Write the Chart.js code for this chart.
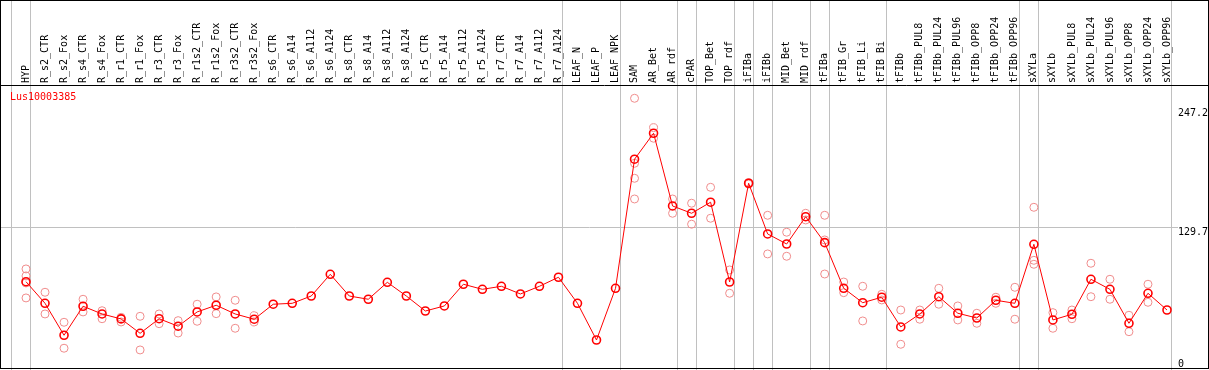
<!DOCTYPE html>
<html>
<head>
<meta charset="utf-8">
<script src="https://cdn.jsdelivr.net/npm/chart.js@4.4.1/dist/chart.umd.min.js"></script>
<style>
  html, body { margin: 0; padding: 0; background: #fff; }
  canvas { display: block; }
</style>
</head>
<body>
<canvas id="expr" width="1209" height="370"></canvas>
<script>
const geneId = 'Lus10003385';

const categories = [
    'HYP', 'R_s2_CTR', 'R_s2_Fox', 'R_s4_CTR', 'R_s4_Fox', 'R_r1_CTR', 'R_r1_Fox',
    'R_r3_CTR', 'R_r3_Fox', 'R_r1s2_CTR', 'R_r1s2_Fox', 'R_r3s2_CTR', 'R_r3s2_Fox',
    'R_s6_CTR', 'R_s6_A14', 'R_s6_A112', 'R_s6_A124', 'R_s8_CTR', 'R_s8_A14', 'R_s8_A112', 'R_s8_A124',
    'R_r5_CTR', 'R_r5_A14', 'R_r5_A112', 'R_r5_A124', 'R_r7_CTR', 'R_r7_A14', 'R_r7_A112', 'R_r7_A124',
    'LEAF_N', 'LEAF_P', 'LEAF_NPK', 'SAM', 'AR_Bet', 'AR_rdf', 'cPAR', 'TOP_Bet', 'TOP_rdf',
    'iFIBa', 'iFIBb', 'MID_Bet', 'MID_rdf', 'tFIBa', 'tFIB_Gr', 'tFIB_Li', 'tFIB_Bi', 'tFIBb',
    'tFIBb_PUL8', 'tFIBb_PUL24', 'tFIBb_PUL96', 'tFIBb_OPP8', 'tFIBb_OPP24', 'tFIBb_OPP96',
    'sXYLa', 'sXYLb', 'sXYLb_PUL8', 'sXYLb_PUL24', 'sXYLb_PUL96', 'sXYLb_OPP8', 'sXYLb_OPP24', 'sXYLb_OPP96'
];

// mean expression (red line)
const meanValues = [
    76.2, 54.9, 23.4, 52.0, 44.4, 39.5, 25.3, 39.7, 32.3, 46.4, 53.0, 44.4, 39.2,
    54.0, 54.9, 62.1, 83.5, 62.1, 58.9, 75.6, 62.1, 47.3, 52.3, 73.7, 68.7, 71.7, 64.1, 71.7, 80.6,
    54.9, 18.7, 69.7, 197.0, 222.6, 150.9, 143.7, 154.6, 75.9,
    173.3, 123.3, 113.4, 140.3, 114.7, 69.7, 55.5, 60.9, 31.6,
    44.4, 61.4, 45.1, 40.4, 57.9, 54.9,
    113.1, 38.5, 44.1, 78.6, 68.7, 35.2, 64.8, 48.3
];

// individual replicates (pink circles), null where there is none
const rep1 = [
    88.8, 65.8, 36.2, 58.9, 47.6, 41.1, 42.1, 44.4, 37.8, 54.0, 61.2, 57.9, 42.7,
    null, null, null, null, null, null, null, null, null, null, null, null, null, null, null, null,
    null, null, null, 257.1, 228.1, 157.8, 153.6, 169.3, 87.8,
    174.0, 141.7, 125.0, 143.7, 141.7, 75.9, 71.7, 63.8, 48.3,
    48.3, 69.7, 52.3, 45.1, 60.9, 70.7,
    149.6, 45.7, 48.3, 94.4, 78.6, 43.1, 73.7, null
];
const rep2 = [
    81.9, 44.4, 10.6, 46.4, 39.7, 36.5, 8.9, 34.8, 25.6, 37.2, 44.7, 30.3, 36.5,
    null, null, null, null, null, null, null, null, null, null, null, null, null, null, null, null,
    null, null, null, 193.0, 217.7, 143.7, 132.9, 138.8, 64.8,
    172.5, 103.6, 101.3, 137.1, 117.4, 65.4, 37.5, 58.2, 14.5,
    39.2, 54.0, 38.5, 35.2, 54.9, 39.2,
    97.3, 30.3, 39.7, 61.4, 58.9, 26.9, 55.9, null
];
const rep3 = [
    75.0, null, null, null, null, null, null, null, null, null, null, null, null,
    null, null, null, null, null, null, null, null, null, null, null, null, null, null, null, null,
    null, null, null, 178.2, null, null, null, null, null,
    null, null, null, null, 83.8, null, null, null, null,
    null, null, null, null, null, null,
    93.4, null, null, null, null, null, null, null
];
const rep4 = [
    60.2, null, null, null, null, null, null, null, null, null, null, null, null,
    null, null, null, null, null, null, null, null, null, null, null, null, null, null, null, null,
    null, null, null, 157.8, null, null, null, null, null,
    null, null, null, null, null, null, null, null, null,
    null, null, null, null, null, null,
    null, null, null, null, null, null, null, null
];

const yTicks = [0, 129.7, 247.2];
const gridValue = 129.7;
// tissue groups end after these category indexes (-1 = before first)
const groupEnds = [-1, 0, 28, 31, 34, 35, 37, 38, 39, 41, 42, 45, 52, 53, 60];

const MONO = "'DejaVu Sans Mono', monospace";
const GREY = '#c0c0c0';

const framePlugin = {
    id: 'frame',
    beforeDatasetsDraw(chart) {
        const { ctx, scales: { x, y } } = chart;
        const step = x.getPixelForValue(1) - x.getPixelForValue(0);
        ctx.save();
        ctx.strokeStyle = GREY;
        ctx.lineWidth = 1;
        groupEnds.forEach(i => {
            const px = Math.round(x.getPixelForValue(0) + (i + 0.21) * step) + 0.5;
            ctx.beginPath();
            ctx.moveTo(px, 0);
            ctx.lineTo(px, chart.height);
            ctx.stroke();
        });
        const gy = Math.round(y.getPixelForValue(gridValue)) + 0.5;
        ctx.beginPath();
        ctx.moveTo(1, gy);
        ctx.lineTo(y.left + 11, gy);
        ctx.stroke();
        ctx.restore();
    },
    afterDraw(chart) {
        const { ctx, chartArea } = chart;
        ctx.save();
        ctx.strokeStyle = '#000';
        ctx.lineWidth = 1;
        ctx.strokeRect(0.5, 0.5, chart.width - 1, chartArea.bottom);
        ctx.beginPath();
        ctx.moveTo(0, chartArea.top + 0.5);
        ctx.lineTo(chart.width, chartArea.top + 0.5);
        ctx.stroke();
        ctx.fillStyle = '#ff0000';
        ctx.font = `10px ${MONO}`;
        ctx.textBaseline = 'top';
        ctx.fillText(chart.data.datasets[0].label, 10, chartArea.top + 7);
        ctx.restore();
    }
};

const repStyle = {
    showLine: false,
    borderColor: '#f08c8c',
    backgroundColor: 'transparent',
    pointRadius: 4,
    pointBorderWidth: 1,
    pointHoverRadius: 4,
    clip: false,
};

new Chart(document.getElementById('expr'), {
    type: 'line',
    data: {
        labels: categories,
        datasets: [
            {
                label: geneId,
                data: meanValues,
                borderColor: '#ff0000',
                backgroundColor: 'transparent',
                borderWidth: 1,
                pointRadius: 4,
                pointBorderWidth: 1.6,
                pointBorderColor: '#ff0000',
                pointBackgroundColor: 'transparent',
                tension: 0,
                clip: false,
                order: 0,
            },
            { ...repStyle, label: 'rep1', data: rep1, order: 1 },
            { ...repStyle, label: 'rep2', data: rep2, order: 1 },
            { ...repStyle, label: 'rep3', data: rep3, order: 1 },
            { ...repStyle, label: 'rep4', data: rep4, order: 1 },
        ]
    },
    options: {
        responsive: false,
        animation: false,
        layout: { autoPadding: false, padding: { left: 26, right: 0, top: 0, bottom: 2 } },
        plugins: {
            legend: { display: false },
            tooltip: { enabled: false },
        },
        scales: {
            x: {
                type: 'category',
                position: 'top',
                offset: false,
                grid: { display: false, drawTicks: false },
                border: { display: false },
                ticks: {
                    autoSkip: false,
                    minRotation: 90,
                    maxRotation: 90,
                    padding: 2,
                    labelOffset: 12,
                    color: '#000',
                    font: { family: MONO, size: 10 },
                },
                afterFit: scale => {
                    scale.height = 85;
                    scale.paddingLeft = 0;
                    scale.paddingRight = 0;
                },
            },
            y: {
                position: 'right',
                min: -8.9,
                max: 270.2,
                grid: { display: false, drawTicks: false },
                border: { display: false },
                afterBuildTicks: scale => { scale.ticks = yTicks.map(v => ({ value: v })); },
                ticks: {
                    align: 'start',
                    padding: 11,
                    color: '#000',
                    font: { family: MONO, size: 10 },
                    callback: v => String(v),
                },
                afterFit: scale => {
                    scale.width = 42;
                    scale.paddingTop = 0;
                    scale.paddingBottom = 0;
                },
            }
        }
    },
    plugins: [framePlugin]
});
</script>
</body>
</html>
